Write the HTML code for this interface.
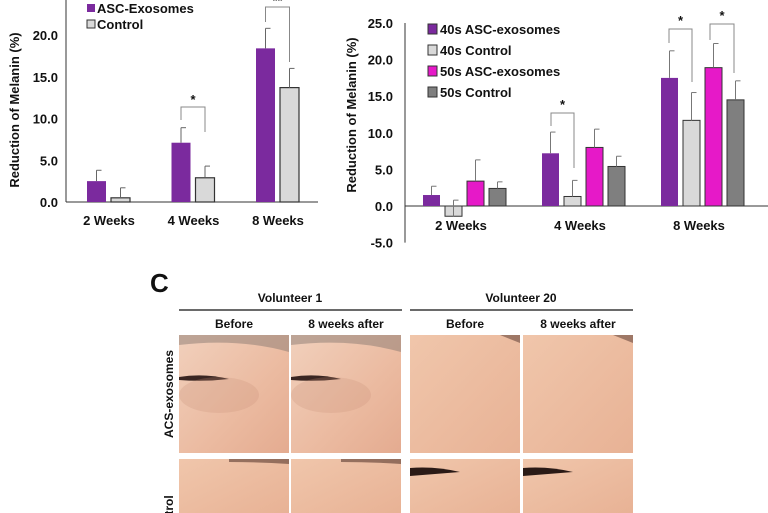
<!DOCTYPE html>
<html><head><meta charset="utf-8"><style>
body{margin:0;width:768px;height:513px;background:#fff;overflow:hidden;position:relative;font-family:"Liberation Sans",Arial,sans-serif}
svg text{font-family:"Liberation Sans",Arial,sans-serif;font-weight:bold}
</style></head><body>
<svg width="768" height="513" style="position:absolute;left:0;top:0">
<defs>
<linearGradient id="skin1" x1="0" y1="0" x2="1" y2="1"><stop offset="0" stop-color="#f1d0bc"/><stop offset="0.6" stop-color="#ebbaa0"/><stop offset="1" stop-color="#e4ab90"/></linearGradient>
<linearGradient id="skin2" x1="0" y1="0" x2="1" y2="1"><stop offset="0" stop-color="#f0c6ab"/><stop offset="1" stop-color="#e8b295"/></linearGradient>
</defs>
<g id="left"></g><g id="right"></g><g id="photos"></g>
</svg>
<script>
const NS="http://www.w3.org/2000/svg";
function mk(p,t,a){const e=document.createElementNS(NS,t);for(const k in a)e.setAttribute(k,a[k]);p.appendChild(e);return e;}
function tx(p,x,y,s,size,anchor,extra){const e=mk(p,'text',Object.assign({x:x,y:y,'font-size':size,'text-anchor':anchor||'start',fill:'#111'},extra||{}));e.textContent=s;return e;}

// Left chart data
const leftCats=["2 Weeks","4 Weeks","8 Weeks"];
const leftExo=[2.5,7.1,18.4];
const leftExoErr=[1.3,1.8,2.4];
const leftCtl=[0.5,2.9,13.7];
const leftCtlErr=[1.2,1.4,2.3];
const leftTicks=[0,5,10,15,20];
// Right chart data
const rightCats=["2 Weeks","4 Weeks","8 Weeks"];
const r40Exo=[1.5,7.2,17.5];
const r40ExoErr=[1.2,2.9,3.7];
const r40Ctl=[-1.4,1.3,11.7];
const r40CtlErr=[2.2,2.2,3.8];
const r50Exo=[3.4,8.0,18.9];
const r50ExoErr=[2.9,2.5,3.3];
const r50Ctl=[2.4,5.4,14.5];
const r50CtlErr=[0.9,1.4,2.6];
const rightTicks=[-5,0,5,10,15,20,25];

// Left
(function(){
const g=document.getElementById('left');
const y=v=>202-v*8.35;
const x0=87,step=84.5,bw=19;
mk(g,'line',{x1:66,y1:0,x2:66,y2:y(0),stroke:'#333','stroke-width':1});
mk(g,'line',{x1:66,y1:y(0),x2:318,y2:y(0),stroke:'#333','stroke-width':1});
leftTicks.forEach(t=>{const e=tx(g,58,y(t)+5,t.toFixed(1),13,'end');});
const yt=tx(g,0,0,'Reduction of Melanin (%)',13,'middle',{transform:'translate(19,110) rotate(-90)'});

leftCats.forEach((c,i)=>{
 const bx=x0+i*step;
 const b1=mk(g,'rect',{x:bx,y:y(leftExo[i]),width:bw,height:y(0)-y(leftExo[i]),fill:'#7b2a9e'});
 
 mk(g,'line',{x1:bx+bw/2,y1:y(leftExo[i]),x2:bx+bw/2,y2:y(leftExo[i]+leftExoErr[i]),stroke:'#666'});
 mk(g,'line',{x1:bx+bw/2,y1:y(leftExo[i]+leftExoErr[i]),x2:bx+bw/2+5,y2:y(leftExo[i]+leftExoErr[i]),stroke:'#666'});
 const cx=bx+24;
 const b2=mk(g,'rect',{x:cx,y:y(leftCtl[i]),width:bw,height:y(0)-y(leftCtl[i]),fill:'#d9d9d9',stroke:'#333','stroke-width':1.2});
 
 mk(g,'line',{x1:cx+bw/2,y1:y(leftCtl[i]),x2:cx+bw/2,y2:y(leftCtl[i]+leftCtlErr[i]),stroke:'#666'});
 mk(g,'line',{x1:cx+bw/2,y1:y(leftCtl[i]+leftCtlErr[i]),x2:cx+bw/2+5,y2:y(leftCtl[i]+leftCtlErr[i]),stroke:'#666'});
 const l=tx(g,bx+22,225,c,13,'middle');
});
function sig(bx1,bx2,top,ya,yb,s,ty){mk(g,'polyline',{points:`${bx1},${ya} ${bx1},${top} ${bx2},${top} ${bx2},${yb}`,fill:'none',stroke:'#888'});tx(g,(bx1+bx2)/2,ty,s,13,'middle');}
sig(x0+step+bw/2,x0+step+24+bw/2,107,120,132,'*',104);
sig(x0+2*step+bw/2,x0+2*step+24+bw/2,7,22,62,'**',5);
mk(g,'rect',{x:87,y:4,width:8,height:8,fill:'#7b2a9e',});
tx(g,97,13,'ASC-Exosomes',13);
mk(g,'rect',{x:87,y:20,width:8,height:8,fill:'#d9d9d9',stroke:'#333'});
tx(g,97,29,'Control',13);
})();

// Right
(function(){
const g=document.getElementById('right');
const y=v=>206-v*7.32;
const x0=423,step=119,bw=17,gap=22;
mk(g,'line',{x1:405,y1:y(25),x2:405,y2:y(-5),stroke:'#333'});
mk(g,'line',{x1:405,y1:y(0),x2:768,y2:y(0),stroke:'#333'});
rightTicks.forEach(t=>{const e=tx(g,393,y(t)+5,t.toFixed(1),13,'end');});
const yt=tx(g,0,0,'Reduction of Melanin (%)',13,'middle',{transform:'translate(356,115) rotate(-90)'});

const series=[[r40Exo,r40ExoErr,'#7b2a9e',false],[r40Ctl,r40CtlErr,'#d9d9d9',true],[r50Exo,r50ExoErr,'#e619c8',true],[r50Ctl,r50CtlErr,'#7f7f7f',true]];
rightCats.forEach((c,i)=>{
 series.forEach((s,j)=>{
  const v=s[0][i],e=s[1][i],bx=x0+i*step+j*gap;
  const top=Math.min(y(v),y(0)),h=Math.abs(y(v)-y(0));
  const r=mk(g,'rect',{x:bx,y:top,width:bw,height:h,fill:s[2],stroke:s[3]?'#333':'none','stroke-width':1});
  
  const ye=y(v+e);
  mk(g,'line',{x1:bx+bw/2,y1:y(v),x2:bx+bw/2,y2:ye,stroke:'#777'});
  mk(g,'line',{x1:bx+bw/2,y1:ye,x2:bx+bw/2+5,y2:ye,stroke:'#777'});
 });
 const l=tx(g,x0+i*step+38,230,c,13,'middle');
});
function sig(a,b,top,ya,yb){mk(g,'polyline',{points:`${a},${ya} ${a},${top} ${b},${top} ${b},${yb}`,fill:'none',stroke:'#888'});tx(g,(a+b)/2,top-4,'*',13,'middle');}
sig(551,574,113,126,168);
sig(669,692,29,43,82);
sig(710,734,24,40,73);
const leg=[['40s ASC-exosomes','#7b2a9e'],['40s Control','#d9d9d9'],['50s ASC-exosomes','#e619c8'],['50s Control','#7f7f7f']];
leg.forEach((l,k)=>{const yy=24+k*21;mk(g,'rect',{x:428,y:yy,width:9,height:10,fill:l[1],stroke:'#333'});const t=tx(g,440,yy+10,l[0],13);});
})();

// Photos
(function(){
const g=document.getElementById('photos');
tx(g,150,292,'C',24,'start',{'font-size':26});
tx(g,290,302,'Volunteer 1',12,'middle');
tx(g,521,302,'Volunteer 20',12,'middle');
mk(g,'line',{x1:179,y1:310,x2:402,y2:310,stroke:'#111','stroke-width':1.3});
mk(g,'line',{x1:410,y1:310,x2:633,y2:310,stroke:'#111','stroke-width':1.3});
const cols=[179,291,410,523];
const heads=['Before','8 weeks after','Before','8 weeks after'];
cols.forEach((cx,i)=>{tx(g,cx+55,328,heads[i],12,'middle');
 const p1=mk(g,'rect',{x:cx,y:335,width:110,height:118,fill:i<2?'url(#skin1)':'url(#skin2)'});
 
 const p2=mk(g,'rect',{x:cx,y:459,width:110,height:54,fill:'url(#skin2)'});
 
 if(i<2){
  mk(g,'path',{d:`M${cx},335 L${cx+110},335 L${cx+110},352 Q${cx+60},338 ${cx},345 Z`,fill:'#8a7a72',opacity:0.5});
  mk(g,'path',{d:`M${cx},377 Q${cx+25},373 ${cx+50},379 Q${cx+25},382 ${cx},380 Z`,fill:'#3a2622'});
  mk(g,'ellipse',{cx:cx+40,cy:395,rx:40,ry:18,fill:'#c98f78',opacity:0.25});
  mk(g,'path',{d:`M${cx+50},459 L${cx+110},459 L${cx+110},464 Q${cx+80},462 ${cx+50},462 Z`,fill:'#5a3a30',opacity:0.6});
 } else {
  mk(g,'path',{d:`M${cx+90},335 L${cx+110},335 L${cx+110},343 Z`,fill:'#6a4a40',opacity:0.6});
  mk(g,'path',{d:`M${cx},468 Q${cx+25},466 ${cx+50},472 Q${cx+25},474 ${cx},476 Z`,fill:'#2a1a16'});
 }
});
tx(g,0,0,'ACS-exosomes',12,'middle',{transform:'translate(173,394) rotate(-90)'});
tx(g,0,0,'Control',12,'start',{transform:'translate(173,538) rotate(-90)'});
})();
</script>
</body></html>
